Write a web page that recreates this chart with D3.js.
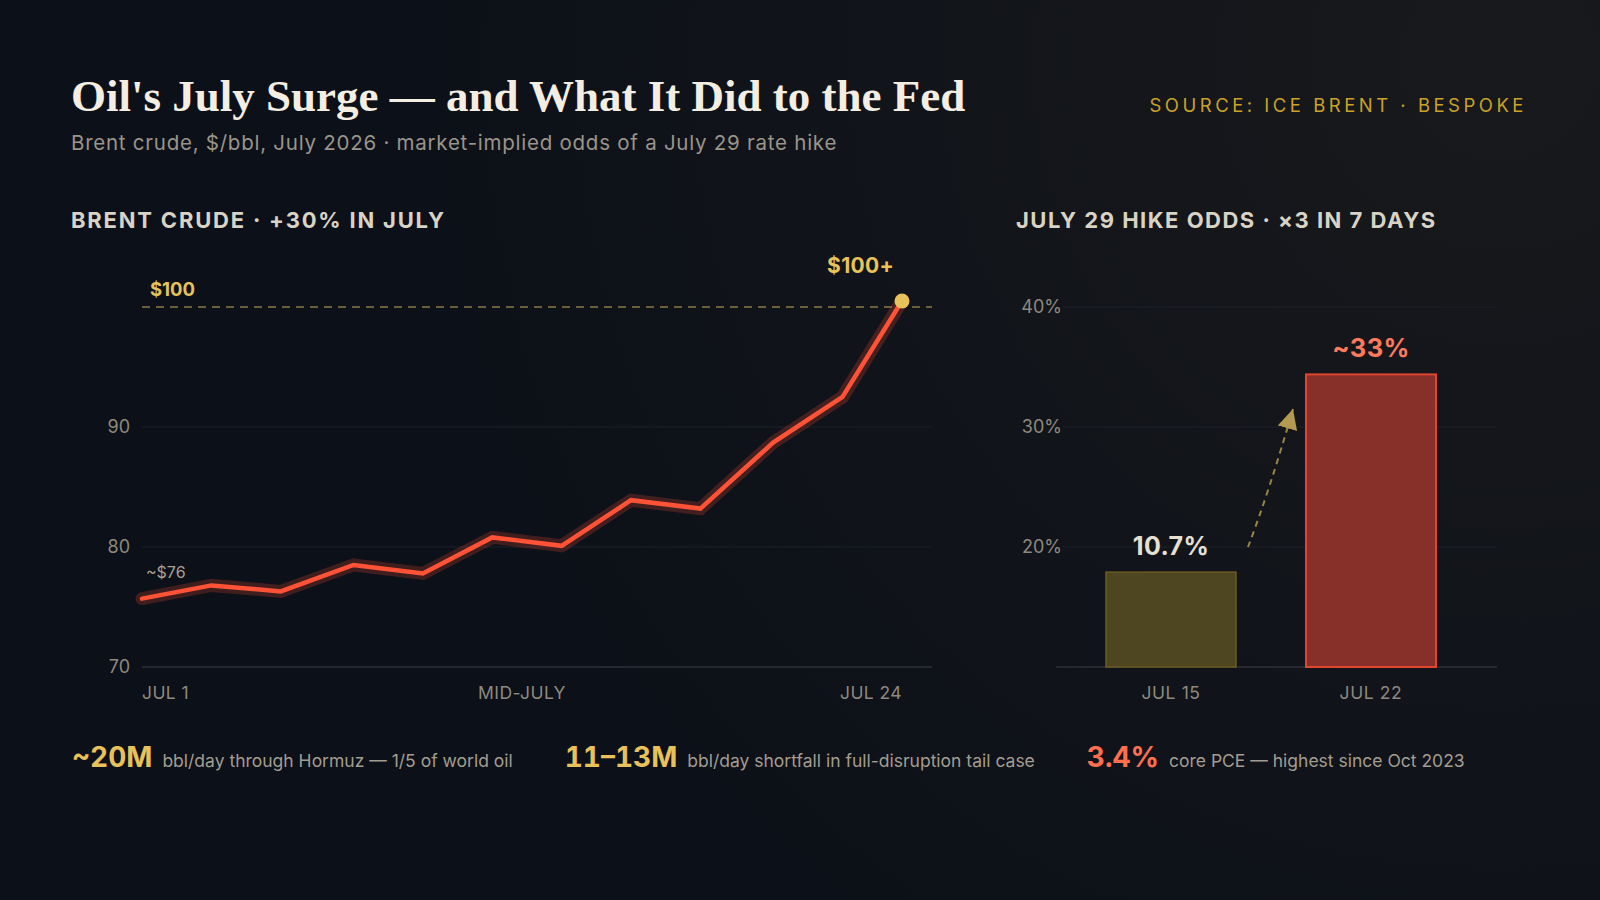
<!DOCTYPE html>
<html lang="en">
<head>
<meta charset="utf-8">
<script src="https://d3js.org/d3.v7.min.js"></script>
<style>
  html, body { margin: 0; padding: 0; background: #0d1118; }
  svg { display: block; }
  .sans { font-family: "Inter", "Liberation Sans", sans-serif; }
  .tick text { font-family: "Inter", sans-serif; }
</style>
</head>
<body>
<svg id="chart" width="1600" height="900"></svg>
<script>
// brent crude, $/bbl (x = day of July)
const brentDays  = [1, 3.1, 5.2, 7.4, 9.5, 11.6, 13.7, 15.8, 17.9, 20.1, 22.2, 24]
const brentPrice = [75.7, 76.8, 76.3, 78.5, 77.8, 80.8, 80.1, 83.9, 83.2, 88.7, 92.5, 100.5]
const brentTicks = [70, 80, 90]
const brentXLabels = ["JUL 1", "MID-JULY", "JUL 24"]

// july 29 hike odds
const hikeDates  = ["JUL 15", "JUL 22"]
const hikeOdds   = [10.7, 33]
const hikeLabels = ["10.7%", "~33%"]
const oddsTicks  = [20, 30, 40]

// stat strip
const statNumbers = ["~20M", "11–13M", "3.4%"]
const statTexts   = ["bbl/day through Hormuz — 1/5 of world oil", "bbl/day shortfall in full-disruption tail case", "core PCE — highest since Oct 2023"]

const svg = d3.select("#chart")
const defs = svg.append("defs")

// background with a faint glow top right
let grad = defs.append("radialGradient").attr("id", "bg").attr("gradientUnits", "userSpaceOnUse")
  .attr("cx", 1500).attr("cy", 60).attr("r", 1100)
grad.append("stop").attr("offset", "0%").attr("stop-color", "#18191c")
grad.append("stop").attr("offset", "100%").attr("stop-color", "#0c1018")
svg.append("rect").attr("width", 1600).attr("height", 900).attr("fill", "url(#bg)")

defs.append("marker").attr("id", "arrowHead").attr("markerUnits", "userSpaceOnUse")
  .attr("viewBox", "0 0 20 20").attr("refX", 20).attr("refY", 10)
  .attr("markerWidth", 20).attr("markerHeight", 20).attr("orient", "auto")
  .append("path").attr("d", "M0,0 L20,10 L0,20 Z").attr("fill", "#b39a4e")

// titles
svg.append("text").attr("x", 71).attr("y", 111)
  .attr("font-family", "'Liberation Serif', 'DejaVu Serif', serif").attr("font-weight", 700)
  .attr("font-size", 45).attr("fill", "#f4eee2")
  .text("Oil's July Surge — and What It Did to the Fed")
svg.append("text").attr("class", "sans").attr("x", 71).attr("y", 150)
  .attr("font-size", 20.5).attr("letter-spacing", 0.75).attr("fill", "#9a948a")
  .text("Brent crude, $/bbl, July 2026 · market-implied odds of a July 29 rate hike")
svg.append("text").attr("class", "sans").attr("x", 1527).attr("y", 112).attr("text-anchor", "end")
  .attr("font-size", 18.5).attr("letter-spacing", 3.5).attr("fill", "#c9a227")
  .text("SOURCE: ICE BRENT · BESPOKE")

svg.append("text").attr("class", "sans").attr("x", 71).attr("y", 228)
  .attr("font-size", 22).attr("letter-spacing", 1.8).attr("font-weight", 700).attr("fill", "#d9d3c5")
  .text("BRENT CRUDE · +30% IN JULY")
svg.append("text").attr("class", "sans").attr("x", 1016).attr("y", 228)
  .attr("font-size", 22).attr("letter-spacing", 1.5).attr("font-weight", 700).attr("fill", "#d9d3c5")
  .text("JULY 29 HIKE ODDS · ×3 IN 7 DAYS")

// ---------- left: brent line ----------
let x = d3.scaleLinear().domain([1, 24]).range([142, 902])
let y = d3.scaleLinear().domain([70, 100]).range([667, 307])
let gridRight = 932

let left = svg.append("g")
left.selectAll(".grid").data(brentTicks).enter().append("line")
  .attr("x1", x(1)).attr("x2", gridRight).attr("y1", d => y(d)).attr("y2", d => y(d))
  .attr("stroke", d => d == 70 ? "#2c3039" : "#1c2029").attr("stroke-width", d => d == 70 ? 1.5 : 1)

let yAxis = left.append("g").attr("transform", "translate(130,0)")
  .call(d3.axisLeft(y).tickValues(brentTicks).tickSize(0).tickPadding(0))
yAxis.select(".domain").remove()
yAxis.selectAll("text").attr("font-size", 18).attr("fill", "#8e897e")

// $100 reference
left.append("line").attr("x1", x(1)).attr("x2", gridRight).attr("y1", y(100)).attr("y2", y(100))
  .attr("stroke", "#8a7a45").attr("stroke-width", 1.5).attr("stroke-dasharray", "8,6")
left.append("text").attr("class", "sans").attr("x", x(1) + 8).attr("y", y(100) - 11)
  .attr("font-size", 18.5).attr("font-weight", 700).attr("fill", "#e5c35a").text("$100")

let pts = brentDays.map((d, i) => ({day: d, price: brentPrice[i]}))
let lineMaker = d3.line().x(d => x(d.day)).y(d => y(d.price))
left.append("path").attr("d", lineMaker(pts)).attr("fill", "none")
  .attr("stroke", "#ff5236").attr("stroke-opacity", 0.22).attr("stroke-width", 13)
  .attr("stroke-linecap", "round")
left.append("path").attr("d", lineMaker(pts)).attr("fill", "none")
  .attr("stroke", "#ff5236").attr("stroke-width", 4.5).attr("stroke-linecap", "round")

let last = pts[pts.length - 1]
left.append("circle").attr("cx", x(last.day)).attr("cy", y(last.price)).attr("r", 7.5).attr("fill", "#e8c35a")
left.append("text").attr("class", "sans").attr("x", x(last.day) - 8).attr("y", y(last.price) - 28)
  .attr("text-anchor", "end").attr("font-size", 21).attr("letter-spacing", 0.3).attr("font-weight", 700)
  .attr("fill", "#e8c35a").text("$100+")
left.append("text").attr("class", "sans").attr("x", x(pts[0].day) + 4).attr("y", y(pts[0].price) - 21)
  .attr("font-size", 16).attr("fill", "#a8a295").text("~$" + Math.round(pts[0].price))

let xLabelPos = [x(1), (x(1) + x(24)) / 2, x(24)]
let xAnchor = ["start", "middle", "end"]
left.selectAll(".xlab").data(brentXLabels).enter().append("text").attr("class", "sans")
  .attr("x", (d, i) => xLabelPos[i]).attr("y", 699).attr("text-anchor", (d, i) => xAnchor[i])
  .attr("font-size", 17.5).attr("letter-spacing", 0.4).attr("fill", "#8e897e").text(d => d)

// ---------- right: hike odds bars ----------
let xb = d3.scaleBand().domain(hikeDates).range([1071, 1471]).paddingInner(0.35).paddingOuter(0.175)
let yOdds = d3.scaleLinear().domain([10, 40]).range([667, 307])   // gridline labels
let yBar = d3.scaleLinear().domain([0, 40.6]).range([667, 307])   // bar heights

let right = svg.append("g")
right.selectAll(".grid").data(oddsTicks).enter().append("line")
  .attr("x1", 1063).attr("x2", 1497).attr("y1", d => yOdds(d)).attr("y2", d => yOdds(d))
  .attr("stroke", "#1c2029").attr("stroke-width", 1)
right.append("line").attr("x1", 1056).attr("x2", 1497).attr("y1", yOdds(10)).attr("y2", yOdds(10))
  .attr("stroke", "#2c3039").attr("stroke-width", 1.5)

let oAxis = right.append("g").attr("transform", "translate(1062,0)")
  .call(d3.axisLeft(yOdds).tickValues(oddsTicks).tickSize(0).tickPadding(0).tickFormat(d => d + "%"))
oAxis.select(".domain").remove()
oAxis.selectAll("text").attr("font-size", 18).attr("fill", "#8e897e")

let barFill = ["#4e4620", "#872f29"]
let barStroke = ["#6b5c22", "#e0452f"]
let labelFill = ["#e6e0d2", "#ff7a5c"]
let labelSize = [25, 25.5]
let bars = hikeDates.map((d, i) => ({date: d, odds: hikeOdds[i], label: hikeLabels[i], i: i}))

right.selectAll(".bar").data(bars).enter().append("rect")
  .attr("x", d => xb(d.date)).attr("width", xb.bandwidth())
  .attr("y", d => yBar(d.odds)).attr("height", d => yBar(0) - yBar(d.odds))
  .attr("fill", d => barFill[d.i]).attr("stroke", d => barStroke[d.i]).attr("stroke-width", d => d.i ? 2 : 1.5)

right.selectAll(".val").data(bars).enter().append("text").attr("class", "sans")
  .attr("x", d => xb(d.date) + xb.bandwidth() / 2).attr("y", d => yBar(d.odds) - 17)
  .attr("text-anchor", "middle").attr("font-size", d => labelSize[d.i]).attr("font-weight", 700)
  .attr("letter-spacing", 0.4).attr("fill", d => labelFill[d.i]).text(d => d.label)

right.selectAll(".xlab").data(bars).enter().append("text").attr("class", "sans")
  .attr("x", d => xb(d.date) + xb.bandwidth() / 2).attr("y", 699).attr("text-anchor", "middle")
  .attr("font-size", 17.5).attr("letter-spacing", 0.6).attr("fill", "#8e897e").text(d => d.date)

// dashed arrow between the bars
let a0 = [xb(hikeDates[0]) + xb.bandwidth() + 12, yOdds(20)]
let a1 = [xb(hikeDates[1]) - 13, yOdds(31.5)]
let p = d3.path()
p.moveTo(a0[0], a0[1])
p.quadraticCurveTo(a0[0] + 21, a0[1] - 55, a1[0], a1[1])
right.append("path").attr("d", p.toString()).attr("fill", "none")
  .attr("stroke", "#9a8444").attr("stroke-width", 2).attr("stroke-dasharray", "6,5")
  .attr("marker-end", "url(#arrowHead)")

// ---------- stat strip ----------
let statColors = ["#e8c15a", "#e8c15a", "#ff6f4f"]
let cursor = 72
statNumbers.forEach((n, i) => {
  let big = svg.append("text").attr("class", "sans").attr("x", cursor).attr("y", 767)
    .attr("font-size", 28).attr("font-weight", 700).attr("fill", statColors[i])
    .style("font-variant-numeric", "tabular-nums").text(n)
  cursor += big.node().getComputedTextLength() + 10
  let small = svg.append("text").attr("class", "sans").attr("x", cursor).attr("y", 767)
    .attr("font-size", 17.5).attr("fill", "#a39d90").text(statTexts[i])
  cursor += small.node().getComputedTextLength() + 52
})
</script>
</body>
</html>
